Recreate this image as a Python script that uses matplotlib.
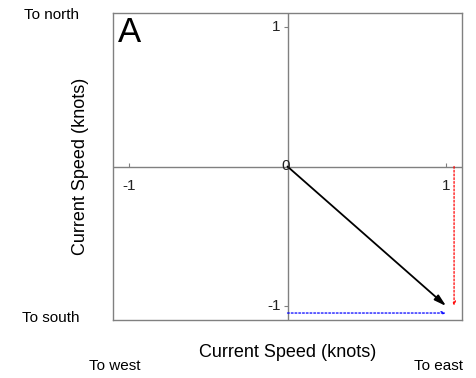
import numpy as np
import matplotlib.pyplot as plt

plt.rcParams['font.family'] = ['Liberation Sans', 'DejaVu Sans']

# mean current vector (knots) and its east / north components
u_east = 1.0
v_north = -1.0
comp_offset = 0.05

tick_vals = [-1, 1]
lim = 1.1

fig = plt.figure(figsize=(4.76, 3.78), dpi=100)
ax = fig.add_axes([113 / 476, 58 / 378, 349 / 476, 307 / 378])
ax.set_xlim(-lim, lim)
ax.set_ylim(-lim, lim)

grey = '#808080'
for sp in ax.spines.values():
    sp.set_color(grey)
    sp.set_linewidth(1.0)
ax.set_xticks([])
ax.set_yticks([])

# centre axes through the origin
ax.axhline(0, color=grey, lw=1.0, zorder=1)
ax.axvline(0, color=grey, lw=1.0, zorder=1)

# small tick marks on the centre axes
ax.plot(tick_vals, np.zeros(len(tick_vals)), ls='none', marker=2, ms=3, color=grey, mew=0.8)
ax.plot(np.zeros(len(tick_vals)), tick_vals, ls='none', marker=0, ms=3, color=grey, mew=0.8)
for t in tick_vals:
    ax.annotate(str(t), (t, 0), xytext=(0, -14), textcoords='offset points',
                ha='center', va='center', fontsize=11, color='#222222')
    ax.annotate(str(t), (0, t), xytext=(-5, 0), textcoords='offset points',
                ha='right', va='center', fontsize=11, color='#222222')
ax.text(-0.01, 0, '0', ha='center', va='center', fontsize=11, color='#222222', zorder=4)

# resultant vector
ax.annotate('', xy=(u_east, v_north), xytext=(0, 0),
            arrowprops=dict(arrowstyle='-|>,head_length=0.7,head_width=0.2',
                            color='black', lw=1.3, shrinkA=0, shrinkB=0), zorder=3)
# north component (red) and east component (blue)
ax.annotate('', xy=(u_east + comp_offset, v_north), xytext=(u_east + comp_offset, 0),
            arrowprops=dict(arrowstyle='->,head_length=0.25,head_width=0.1',
                            color='red', lw=0.9, ls=(0, (1.5, 1.5)), shrinkA=0, shrinkB=0))
ax.annotate('', xy=(u_east, v_north - comp_offset), xytext=(0, v_north - comp_offset),
            arrowprops=dict(arrowstyle='->,head_length=0.25,head_width=0.1',
                            color='blue', lw=0.9, ls=(0, (1.5, 1.5)), shrinkA=0, shrinkB=0))

ax.text(0.013, 0.99, 'A', transform=ax.transAxes, ha='left', va='top', fontsize=25)

ax.set_xlabel('Current Speed (knots)', fontsize=13, labelpad=17)
ax.set_ylabel('Current Speed (knots)', fontsize=13, labelpad=17)

fig.text(24 / 476, 1 - 15 / 378, 'To north', ha='left', va='center', fontsize=11)
fig.text(22 / 476, 1 - 318 / 378, 'To south', ha='left', va='center', fontsize=11)
fig.text(115 / 476, 1 - 366 / 378, 'To west', ha='center', va='center', fontsize=11)
fig.text(438 / 476, 1 - 366 / 378, 'To east', ha='center', va='center', fontsize=11)

fig.savefig('out.png', dpi=100)
